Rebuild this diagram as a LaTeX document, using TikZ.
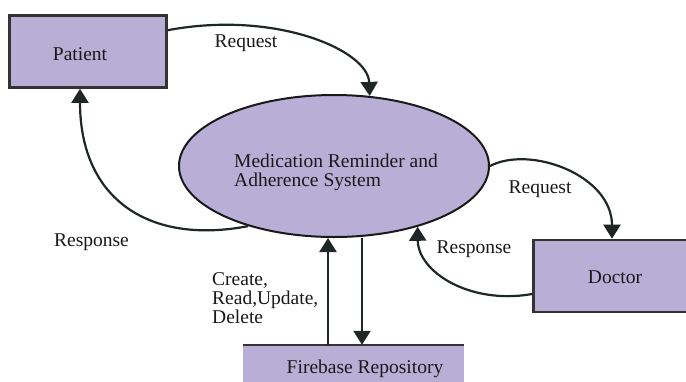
\documentclass[tikz,border=0pt]{standalone}
\usepackage{fontspec}
\setmainfont{Liberation Serif}
\newfontfamily\labelface{Liberation Serif}
\usetikzlibrary{arrows.meta,shapes.geometric,calc}
\definecolor{lav}{HTML}{B9AFD6}
\definecolor{edgegray}{HTML}{333333}
\definecolor{flow}{HTML}{1E2626}
\begin{document}
\begin{tikzpicture}[x=1pt,y=-1pt,
  txt/.style={font=\labelface\fontsize{19.5}{18.8}\selectfont, text=black!90},
  entity/.style={rectangle, draw=edgegray, line width=2.6pt, fill=lav,
    minimum width=#1, minimum height=72pt, inner sep=0pt},
  process/.style={ellipse, draw=black!90, line width=2pt, fill=lav,
    minimum width=310pt, minimum height=142pt, inner sep=0pt},
  store/.style={rectangle, fill=lav, minimum width=221pt,
    minimum height=45pt, inner sep=0pt},
  flowarrow/.style={draw=flow, line width=2.2pt,
    -{Triangle[length=14pt,width=17pt]}}]
\useasboundingbox (0,0) rectangle (686,381);
\clip (0,0) rectangle (686,381);

% external entities, process and data store
\node[entity=157pt] (patient) at (88,51.5) {};
\node[entity=165pt] (doc) at (616,276) {};
\node[process] (sys) at (334,166) {};
\node[store] (fb) at (353.5,367.5) {};
\draw[edgegray, line width=2pt] (fb.north west) -- (fb.north east);

% data flows
\draw[flowarrow] ($(patient.north east)+(0,16)$)
  .. controls (275,10) and (368,50) .. (sys.63.8);
\draw[flowarrow] (sys.215)
  .. controls (150,245) and (80,200) .. ($(patient.south)+(-8,0)$);
\draw[flowarrow] (sys.east)
  .. controls (530,145) and (612,175) .. ($(doc.north)+(-4,0)$);
\draw[flowarrow] ($(doc.west)+(0,18)$)
  .. controls (470,305) and (418,272) .. (sys.-36);
\coordinate (fbin) at ($(fb.north)+(-25.5,0)$);
\coordinate (fbout) at ($(fb.north)+(8.5,0)$);
\draw[flowarrow] (fbin) -- (fbin |- sys.south);
\draw[flowarrow] (sys.south -| fbout) -- (fbout);

% labels (multi-line nodes sit on the baseline of their last line)
\node[txt, anchor=base] (tPatient) at (80,60) {Patient};
\node[txt, anchor=base] (tReqA) at (246,47.5) {Request};
\node[txt, anchor=base west, align=left, inner sep=0pt] (tSys) at (234,186)
  {Medication Reminder and\\Adherence System};
\node[txt, anchor=base] (tRespA) at (91.5,246) {Response};
\node[txt, anchor=base] (tReqB) at (540,193) {Request};
\node[txt, anchor=base] (tRespB) at (474,253) {Response};
\node[txt, anchor=base west, align=left, inner sep=0pt] (tCrud) at (212,323)
  {Create,\\Read,Update,\\Delete};
\node[txt, anchor=base] (tFb) at (365,373) {Firebase Repository};
\node[txt, anchor=base] (tDoc) at (615,283) {Doctor};
\end{tikzpicture}
\end{document}
